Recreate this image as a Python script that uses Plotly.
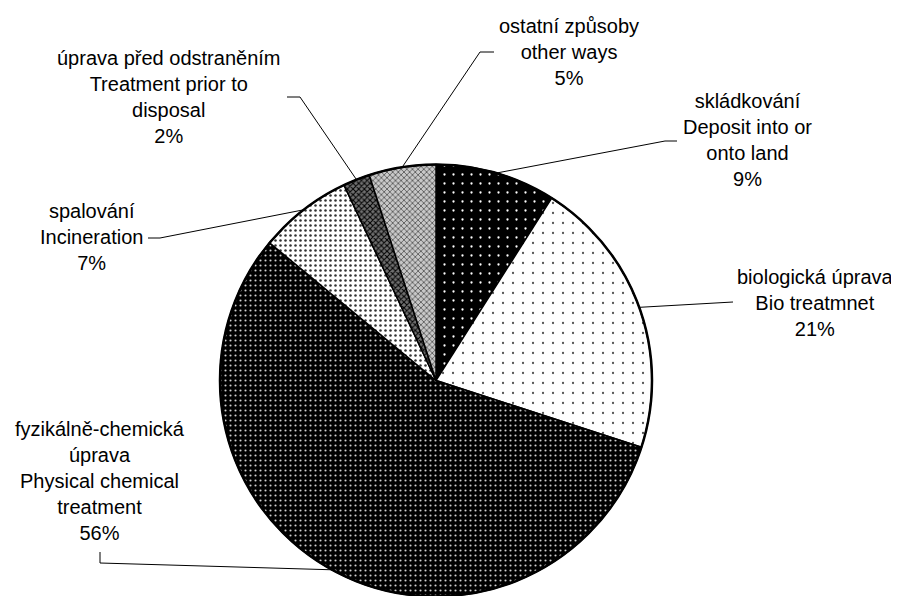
import math
import plotly.graph_objects as go

# ---- data ----
labels_cz = ["skládkování", "biologická úprava", "fyzikálně-chemická<br>úprava",
             "spalování", "úprava před odstraněním", "ostatní způsoby"]
labels_en = ["Deposit into or<br>onto land", "Bio treatmnet", "Physical chemical<br>treatment",
             "Incineration", "Treatment prior to<br>disposal", "other ways"]
values = [9, 21, 56, 7, 2, 5]

# ---- styles ----
pat_shape = [".", ".", ".", ".", "x", "x"]
pat_fg = ["#ffffff", "#555555", "#cfcfcf", "#333333", "#000000", "#333333"]
pat_bg = ["#000000", "#ffffff", "#000000", "#ffffff", "#707070", "#c8c8c8"]
pat_size = [9, 10, 5, 5, 4, 4]
pat_sol = [0.05, 0.04, 0.14, 0.2, 0.45, 0.3]

W, H = 899, 596
OFF = 8  # page body margin of the rendered html
cx, cy, r = 436.0, 380.5, 216.0

# label placement (page pixels): text centre, elbow point, end point
label_pos = [
    (747, 140, (665, 141), (677, 141)),
    (815, 303, (733, 302), (733, 302)),
    (100, 481, (100, 563), (100, 552)),
    (91, 237, (160, 238), (148, 238)),
    (168, 97, (300, 97), (287, 97)),
    (569, 52, (480, 52), (494, 52)),
]


def px(x):
    return (x - OFF) / W


def py(y):
    return 1 - (y - OFF) / H


fig = go.Figure(go.Pie(
    labels=[c.replace("<br>", " ") for c in labels_cz],
    values=values,
    sort=False,
    direction="clockwise",
    rotation=0,
    textinfo="none",
    hoverinfo="label+percent",
    showlegend=False,
    domain=dict(x=[px(cx - r), px(cx + r)], y=[py(cy + r), py(cy - r)]),
    marker=dict(
        colors=pat_bg,
        line=dict(color="#000000", width=1.5),
        pattern=dict(shape=pat_shape, fgcolor=pat_fg, bgcolor=pat_bg,
                     size=pat_size, solidity=pat_sol, fillmode="replace"),
    ),
))

total = sum(values)
cum = 0
shapes = []
annotations = []
for i, v in enumerate(values):
    mid = (cum + v / 2) / total * 2 * math.pi
    cum += v
    sx = cx + r * math.sin(mid)
    sy = cy - r * math.cos(mid)
    tx, ty, elbow, end = label_pos[i]
    path = f"M {px(sx)} {py(sy)} L {px(elbow[0])} {py(elbow[1])} L {px(end[0])} {py(end[1])}"
    shapes.append(dict(type="path", xref="paper", yref="paper", path=path,
                       line=dict(color="#000000", width=1)))
    pct = round(v / total * 100)
    annotations.append(dict(
        x=px(tx), y=py(ty), xref="paper", yref="paper",
        xanchor="center", yanchor="middle", showarrow=False, align="center",
        text=f"{labels_cz[i]}<br>{labels_en[i]}<br>{pct}%",
        font=dict(family="Liberation Sans, Arial, sans-serif", size=20, color="#000000"),
    ))

# thicker outer edge
shapes.append(dict(type="circle", xref="paper", yref="paper",
                   x0=px(cx - r), x1=px(cx + r), y0=py(cy + r), y1=py(cy - r),
                   line=dict(color="#000000", width=2.5)))

fig.update_layout(
    width=W, height=H,
    margin=dict(l=0, r=0, t=0, b=0),
    paper_bgcolor="#ffffff",
    plot_bgcolor="#ffffff",
    shapes=shapes,
    annotations=annotations,
)

fig.write_html("out.html")
